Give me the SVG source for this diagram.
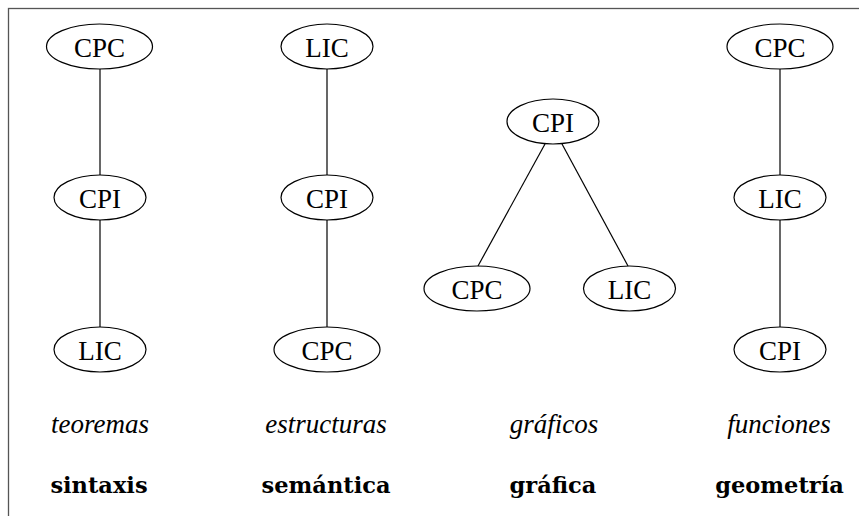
<svg xmlns="http://www.w3.org/2000/svg" width="859" height="516" viewBox="0 0 859 516">
<style>
.n ellipse{fill:#fff;stroke:#000;stroke-width:1.2}
.n text{font-family:'Liberation Serif','DejaVu Serif','Times New Roman',Times,serif;font-size:27px;text-anchor:middle;fill:#000}
.e line{stroke:#000;stroke-width:1.2}
.it{font-family:'Liberation Serif','DejaVu Serif','Times New Roman',Times,serif;font-style:italic;font-size:27px;text-anchor:middle;fill:#000}
.bd{font-family:'DejaVu Serif','Liberation Serif','Times New Roman',Times,serif;font-weight:bold;font-size:22.5px;text-anchor:middle;fill:#000}
</style>
<rect width="859" height="516" fill="#fff"/>
<rect x="8.5" y="8.5" width="900" height="600" fill="none" stroke="#555" stroke-width="1.3"/>
<g id="edges" class="e">
<line x1="100" y1="69" x2="100" y2="175"/>
<line x1="100" y1="220" x2="100" y2="327"/>
<line x1="327" y1="69" x2="327" y2="175"/>
<line x1="327" y1="220" x2="327" y2="327"/>
<line x1="545" y1="144" x2="478" y2="266"/>
<line x1="562" y1="144" x2="628" y2="266"/>
<line x1="780" y1="69" x2="780" y2="175"/>
<line x1="780" y1="220" x2="780" y2="327"/>
</g>
<g id="c1-cpc" class="n"><ellipse cx="99.5" cy="46.5" rx="53" ry="22.5"/><text x="99.5" y="57">CPC</text></g>
<g id="c1-cpi" class="n"><ellipse cx="100" cy="197.5" rx="46" ry="22.5"/><text x="100" y="208">CPI</text></g>
<g id="c1-lic" class="n"><ellipse cx="100" cy="349.5" rx="46" ry="22.5"/><text x="100" y="360">LIC</text></g>
<g id="c2-lic" class="n"><ellipse cx="327" cy="46.5" rx="46" ry="22.5"/><text x="327" y="57">LIC</text></g>
<g id="c2-cpi" class="n"><ellipse cx="327" cy="197.5" rx="46" ry="22.5"/><text x="327" y="208">CPI</text></g>
<g id="c2-cpc" class="n"><ellipse cx="327" cy="349.5" rx="53" ry="22.5"/><text x="327" y="360">CPC</text></g>
<g id="c3-cpi" class="n"><ellipse cx="553" cy="121.5" rx="46" ry="22.5"/><text x="553" y="132">CPI</text></g>
<g id="c3-cpc" class="n"><ellipse cx="477" cy="288.5" rx="53" ry="22.5"/><text x="477" y="299">CPC</text></g>
<g id="c3-lic" class="n"><ellipse cx="629.5" cy="288.5" rx="46" ry="22.5"/><text x="629.5" y="299">LIC</text></g>
<g id="c4-cpc" class="n"><ellipse cx="780" cy="46.5" rx="53" ry="22.5"/><text x="780" y="57">CPC</text></g>
<g id="c4-lic" class="n"><ellipse cx="780" cy="197.5" rx="46" ry="22.5"/><text x="780" y="208">LIC</text></g>
<g id="c4-cpi" class="n"><ellipse cx="780" cy="349.5" rx="46" ry="22.5"/><text x="780" y="360">CPI</text></g>
<g id="labels">
<text class="it" x="100" y="433">teoremas</text>
<text class="it" x="326" y="433">estructuras</text>
<text class="it" x="554" y="433">gráficos</text>
<text class="it" x="779" y="433">funciones</text>
<text class="bd" x="99" y="493">sintaxis</text>
<text class="bd" x="326" y="493">semántica</text>
<text class="bd" x="553" y="493">gráfica</text>
<text class="bd" x="779.5" y="493">geometría</text>
</g>
</svg>
